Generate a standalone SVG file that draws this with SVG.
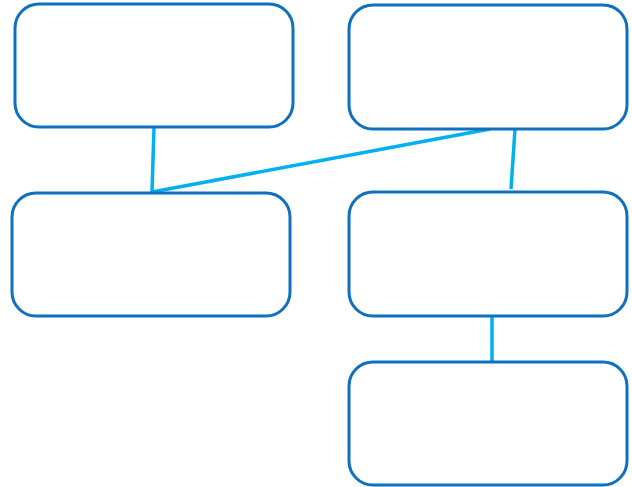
<svg xmlns="http://www.w3.org/2000/svg" width="632" height="487" viewBox="0 0 632 487">
<style>
.node rect{fill:#fff;stroke:#0F70C0;stroke-width:3}
.conn line{stroke:#00B0F0;stroke-width:3.5;stroke-linecap:butt}
</style>
<rect width="632" height="487" fill="#fff"/>
<g class="conn" id="connectors">
<line x1="154" y1="127" x2="152" y2="192"/>
<line x1="490" y1="129" x2="152" y2="192"/>
<line x1="515" y1="129" x2="511" y2="189"/>
<line x1="492" y1="317" x2="492" y2="363"/>
</g>
<g class="node" id="n1"><rect x="15" y="4" width="278" height="123" rx="24"/></g>
<g class="node" id="n2"><rect x="349" y="5" width="278" height="124" rx="24"/></g>
<g class="node" id="n3"><rect x="12" y="193" width="278" height="123" rx="24"/></g>
<g class="node" id="n4"><rect x="349" y="192" width="278" height="124" rx="24"/></g>
<g class="node" id="n5"><rect x="349" y="362" width="278" height="123" rx="24"/></g>
</svg>
